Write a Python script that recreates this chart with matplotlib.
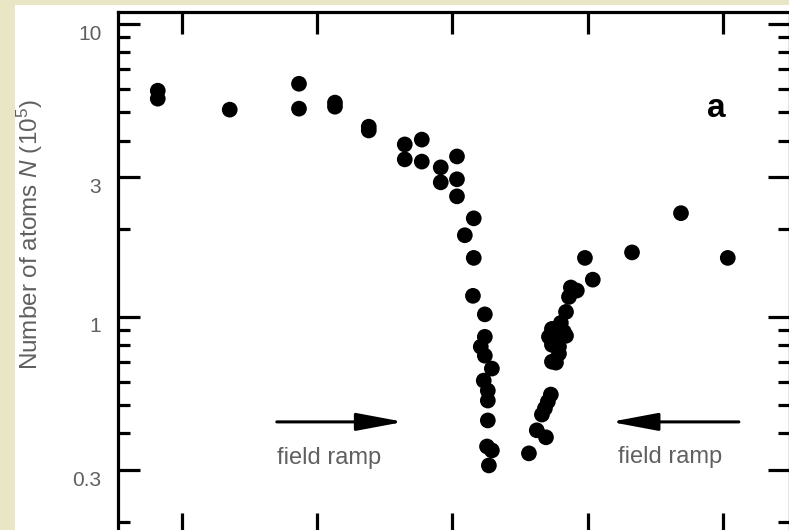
import matplotlib
matplotlib.use("Agg")
import matplotlib.pyplot as plt
import matplotlib.transforms as mtransforms
from matplotlib.patches import Rectangle
from matplotlib.ticker import FixedLocator, LogLocator, NullFormatter

plt.rcParams['font.family'] = ['Liberation Sans', 'DejaVu Sans']
plt.rcParams['mathtext.fontset'] = 'custom'
plt.rcParams['mathtext.rm'] = 'Liberation Sans'
plt.rcParams['mathtext.it'] = 'Liberation Sans:italic'

# magnetic field (G) and atom number (1e5), field ramped upward
ramp_up_B = [894.11, 894.11, 896.77, 899.33, 899.33, 900.66, 900.66, 901.91, 901.91,
             903.24, 903.87, 903.24, 903.87, 904.57, 904.57, 905.17, 905.17, 905.17,
             905.79, 905.46, 905.79, 905.76, 906.20, 906.20, 906.05, 906.20, 906.46,
             906.16, 906.31, 906.31, 906.31, 906.28, 906.46, 906.35]
ramp_up_N = [5.92, 5.56, 5.10, 6.25, 5.14, 5.39, 5.22, 4.46, 4.33,
             3.88, 4.03, 3.45, 3.39, 3.24, 2.88, 3.53, 2.95, 2.58,
             2.17, 1.90, 1.59, 1.18, 1.02, 0.855, 0.791, 0.737, 0.666,
             0.606, 0.560, 0.518, 0.443, 0.361, 0.350, 0.311]

# field ramped downward
ramp_down_B = [907.83, 908.12, 908.46, 908.31, 908.42, 908.53, 908.64, 908.83, 908.68,
               908.94, 908.94, 908.68, 908.86, 908.57, 909.20, 909.12, 908.68, 909.01,
               909.20, 909.31, 909.60, 909.38, 910.19, 909.90, 911.64, 913.45, 915.18]
ramp_down_N = [0.342, 0.410, 0.388, 0.464, 0.487, 0.514, 0.543, 0.698, 0.703,
               0.749, 0.791, 0.803, 0.842, 0.855, 0.862, 0.889, 0.910, 0.954,
               1.04, 1.17, 1.23, 1.26, 1.34, 1.59, 1.66, 2.26, 1.59]

x_ticks = [895, 900, 905, 910, 915]
y_ticks = [0.3, 1, 3, 10]
y_ticklabels = ["0.3", "1", "3", "10"]

grey = "#606060"

fig = plt.figure(figsize=(7.89, 5.30), dpi=100, facecolor="#e9e6c6")
fig.patches.append(Rectangle((15 / 789, 0), 1, 1 - 5 / 530, transform=fig.transFigure,
                             facecolor="white", edgecolor="none", zorder=-5))

W, H = 789, 530
ax = fig.add_axes([118 / W, 1 - 535 / H, (790 - 118) / W, (535 - 12) / H])
ax.set_facecolor("white")

ax.scatter(ramp_up_B, ramp_up_N, s=128, color="black", edgecolors="none", zorder=3)
ax.scatter(ramp_down_B, ramp_down_N, s=128, color="black", edgecolors="none", zorder=3)

ax.set_yscale("log")
ax.set_xlim(892.64, 917.48)
ax.set_ylim(0.180, 10.99)

ax.xaxis.set_major_locator(FixedLocator(x_ticks))
ax.set_xticklabels([])
ax.yaxis.set_major_locator(FixedLocator(y_ticks))
ax.yaxis.set_minor_locator(LogLocator(base=10, subs=range(2, 10)))
ax.yaxis.set_minor_formatter(NullFormatter())
ax.set_yticklabels(y_ticklabels)

for sp in ax.spines.values():
    sp.set_linewidth(2.3)

ax.tick_params(axis="both", which="major", direction="in", length=16, width=2.3,
               top=True, right=True, labelsize=15, labelcolor=grey, pad=12)
ax.tick_params(axis="y", which="minor", direction="in", length=8.5, width=2.3,
               left=True, right=True)
ax.tick_params(axis="x", which="minor", bottom=False, top=False)

# labels sit a little below their ticks in the original
offset = mtransforms.ScaledTranslation(0, -8 / 100, fig.dpi_scale_trans)
for lab in ax.get_yticklabels():
    lab.set_transform(lab.get_transform() + offset)

ax.set_ylabel("Number of atoms $N$ (10$^5$)", fontsize=17.5, color=grey)
ax.yaxis.set_label_coords(-0.109, 0.574)

ax.text(0.89, 0.816, "a", transform=ax.transAxes, fontsize=24, fontweight="bold",
        ha="center", va="center", color="black")

arrow_style = dict(arrowstyle="-|>,head_length=1.6,head_width=0.3", mutation_scale=18,
                   lw=2.2, color="black", shrinkA=0, shrinkB=0)
ax.annotate("", xy=(903.2, 0.438), xytext=(898.51, 0.438), arrowprops=arrow_style)
ax.annotate("", xy=(910.85, 0.438), xytext=(915.59, 0.438), arrowprops=arrow_style)
ax.text(900.43, 0.330, "field ramp", fontsize=17, color=grey, ha="center", va="center")
ax.text(913.04, 0.333, "field ramp", fontsize=17, color=grey, ha="center", va="center")

fig.savefig("out.png", dpi=100, facecolor=fig.get_facecolor())
